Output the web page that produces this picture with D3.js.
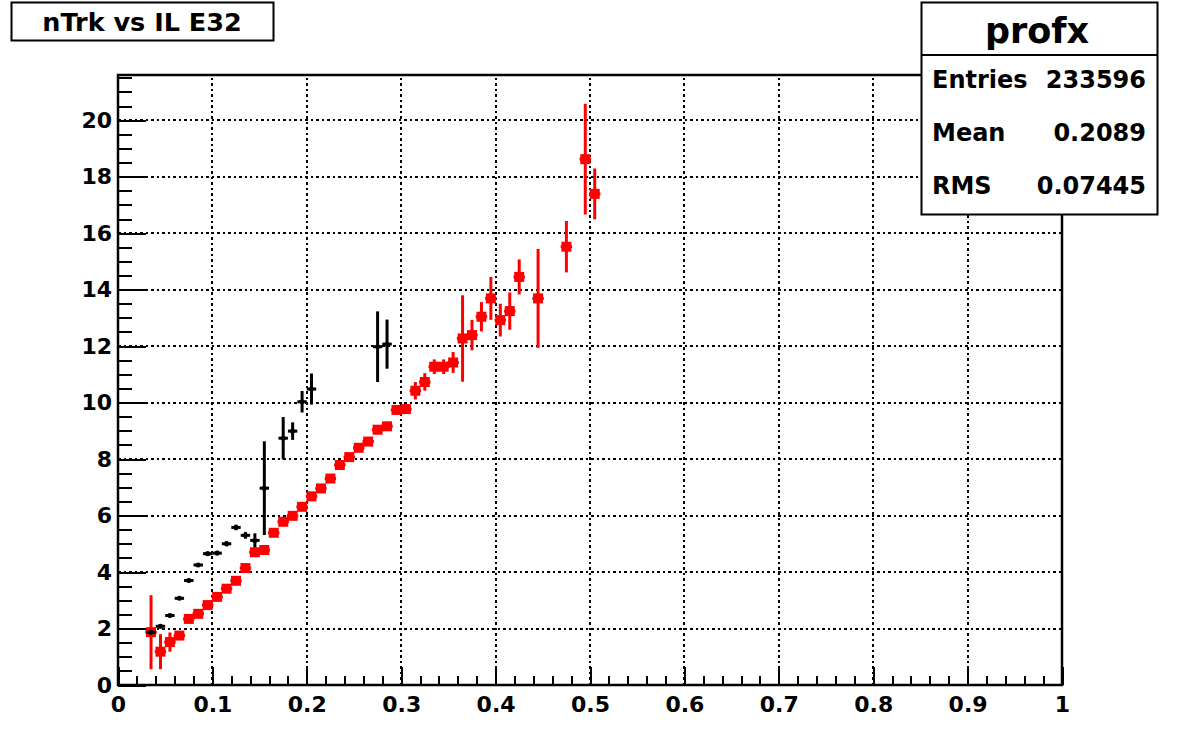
<!DOCTYPE html>
<html><head><meta charset="utf-8">
<script src="https://cdn.jsdelivr.net/npm/d3@7"></script>
<style>body{margin:0;background:#fff}svg{display:block}text{font-family:"DejaVu Sans",sans-serif;font-weight:bold}</style>
</head><body>
<script>
// ---- data ----
const titleText = "nTrk vs IL E32";
const statsName = "profx";
const statsLabels = ["Entries", "Mean", "RMS"];
const statsValues = ["233596", "0.2089", "0.07445"];
const xTicks = [0,0.1,0.2,0.3,0.4,0.5,0.6,0.7,0.8,0.9,1];
const xTickLabels = ["0","0.1","0.2","0.3","0.4","0.5","0.6","0.7","0.8","0.9","1"];
const yTicks = [0,2,4,6,8,10,12,14,16,18,20];
const binHalfWidth = 0.005;
// red series
const redX = [0.035,0.045,0.055,0.065,0.075,0.085,0.095,0.105,0.115,0.125,0.135,0.145,0.155,0.165,0.175,0.185,0.195,0.205,0.215,0.225,0.235,0.245,0.255,0.265,0.275,0.285,0.295,0.305,0.315,0.325,0.335,0.345,0.355,0.365,0.375,0.385,0.395,0.405,0.415,0.425,0.445,0.475,0.495,0.505];
const redY = [1.87,1.18,1.52,1.75,2.34,2.52,2.83,3.12,3.41,3.69,4.14,4.70,4.78,5.39,5.78,5.99,6.31,6.68,6.96,7.31,7.79,8.07,8.40,8.62,9.04,9.16,9.74,9.77,10.42,10.73,11.27,11.27,11.42,12.27,12.39,13.04,13.69,12.92,13.24,14.45,13.69,15.52,18.62,17.39];
const redErr = [1.31,0.62,0.34,0.12,0.10,0.08,0.07,0.06,0.06,0.06,0.06,0.08,0.08,0.06,0.06,0.07,0.08,0.08,0.08,0.08,0.08,0.08,0.09,0.10,0.10,0.12,0.14,0.15,0.31,0.31,0.26,0.26,0.37,1.53,0.54,0.52,0.76,0.58,0.66,0.62,1.75,0.91,1.96,0.90];
// black series
const blackX = [0.035,0.045,0.055,0.065,0.075,0.085,0.095,0.105,0.115,0.125,0.135,0.145,0.155,0.175,0.185,0.195,0.205,0.275,0.285];
const blackY = [1.87,2.08,2.46,3.07,3.70,4.25,4.65,4.67,5.00,5.58,5.30,5.12,6.97,8.74,8.99,10.03,10.48,11.98,12.07];
const blackErr = [0.08,0.08,0.06,0.06,0.07,0.07,0.08,0.08,0.09,0.10,0.12,0.25,1.66,0.75,0.31,0.38,0.55,1.25,0.87];

// ---- layout ----
const W = 1181, H = 737;
const L = 118, R = 1062, T = 75, B = 685;
const svg = d3.select("body").append("svg").attr("width", W).attr("height", H);
const x = d3.scaleLinear().domain([0,1]).range([L,R]);
const y = d3.scaleLinear().domain([0,21.6]).range([B,T]);
const rx = d => Math.round(x(d)), ry = d => Math.round(y(d));

// grid
const grid = svg.append("g").attr("stroke","#000").attr("stroke-width",2).attr("stroke-dasharray","2.5,3").attr("shape-rendering","crispEdges");
grid.selectAll(".gx").data(xTicks.slice(1,-1)).join("line")
  .attr("x1",rx).attr("x2",rx).attr("y1",B).attr("y2",T);
grid.selectAll(".gy").data(yTicks.slice(1)).join("line")
  .attr("y1",ry).attr("y2",ry).attr("x1",L).attr("x2",R);

// axes via d3
const xMinor = d3.range(0,1.0001,0.02);
const yMinor = d3.range(0,21.6,0.5);
const axB = svg.append("g").attr("transform",`translate(0,${B})`);
axB.call(d3.axisTop(x).tickValues(xMinor).tickSize(9).tickFormat(""));
axB.append("g").call(d3.axisTop(x).tickValues(xTicks).tickSize(18).tickFormat(""));
const axBL = svg.append("g").attr("transform",`translate(0,${B})`)
  .call(d3.axisBottom(x).tickValues(xTicks).tickSize(0).tickPadding(11).tickFormat((d,i)=>xTickLabels[i]));
axBL.select(".domain").remove();
axBL.selectAll("text").attr("font-size",22).attr("fill","#000").attr("font-family","DejaVu Sans, sans-serif").attr("font-weight","bold");

const axL = svg.append("g").attr("transform",`translate(${L},0)`);
axL.call(d3.axisRight(y).tickValues(yMinor).tickSize(14).tickFormat(""));
axL.append("g").call(d3.axisRight(y).tickValues(yTicks).tickSize(28).tickFormat(""));
const axLL = svg.append("g").attr("transform",`translate(${L},0)`)
  .call(d3.axisLeft(y).tickValues(yTicks).tickSize(0).tickPadding(6));
axLL.select(".domain").remove();
axLL.selectAll("text").attr("font-size",22).attr("fill","#000").attr("font-family","DejaVu Sans, sans-serif").attr("font-weight","bold");
svg.selectAll(".domain").attr("stroke","none");
svg.selectAll(".tick line").attr("stroke","#000").attr("stroke-width",2).attr("shape-rendering","crispEdges");

// frame
svg.append("rect").attr("x",L).attr("y",T).attr("width",R-L).attr("height",B-T)
  .attr("fill","none").attr("stroke","#000").attr("stroke-width",2.5);

// red series
const red = redX.map((d,i)=>({x:d,y:redY[i],e:redErr[i]}));
const gr = svg.append("g").attr("stroke","#ff0000").attr("stroke-width",3);
gr.selectAll(".v").data(red).join("line").attr("x1",d=>x(d.x)).attr("x2",d=>x(d.x)).attr("y1",d=>y(d.y-d.e)).attr("y2",d=>y(d.y+d.e));
gr.selectAll(".h").data(red).join("line").attr("x1",d=>x(d.x-binHalfWidth)-1).attr("x2",d=>x(d.x+binHalfWidth)+1).attr("y1",d=>y(d.y)).attr("y2",d=>y(d.y));
svg.append("g").selectAll("rect").data(red).join("rect")
  .attr("x",d=>x(d.x)-5).attr("y",d=>y(d.y)-5).attr("width",10).attr("height",10).attr("fill","#ff0000");

// black series
const blk = blackX.map((d,i)=>({x:d,y:blackY[i],e:blackErr[i]}));
const gb = svg.append("g").attr("stroke","#000").attr("stroke-width",3);
gb.selectAll(".v").data(blk).join("line").attr("x1",d=>x(d.x)).attr("x2",d=>x(d.x)).attr("y1",d=>y(d.y-d.e)).attr("y2",d=>y(d.y+d.e));
gb.selectAll(".h").data(blk).join("line").attr("x1",d=>x(d.x-binHalfWidth)).attr("x2",d=>x(d.x+binHalfWidth)).attr("y1",d=>y(d.y)).attr("y2",d=>y(d.y));
svg.append("g").selectAll("circle").data(blk).join("circle")
  .attr("cx",d=>x(d.x)).attr("cy",d=>y(d.y)).attr("r",2.5).attr("fill","#000");

// title box
svg.append("rect").attr("x",11.5).attr("y",2.5).attr("width",262).attr("height",38)
  .attr("fill","#fff").attr("stroke","#000").attr("stroke-width",2);
svg.append("text").attr("x",142).attr("y",31).attr("text-anchor","middle").attr("font-size",25.5).text(titleText);

// stats box
svg.append("rect").attr("x",921.5).attr("y",2.5).attr("width",236).attr("height",212)
  .attr("fill","#fff").attr("stroke","#000").attr("stroke-width",2);
svg.append("line").attr("x1",921.5).attr("x2",1157.5).attr("y1",55).attr("y2",55).attr("stroke","#000").attr("stroke-width",2);
svg.append("text").attr("x",1037).attr("y",43).attr("text-anchor","middle").attr("font-size",35).text(statsName);
const rowY = [88,141,194];
statsLabels.forEach((s,i)=>{
  svg.append("text").attr("x",932).attr("y",rowY[i]).attr("font-size",24).text(s);
  svg.append("text").attr("x",1146).attr("y",rowY[i]).attr("text-anchor","end").attr("font-size",24).text(statsValues[i]);
});
</script>
</body></html>
